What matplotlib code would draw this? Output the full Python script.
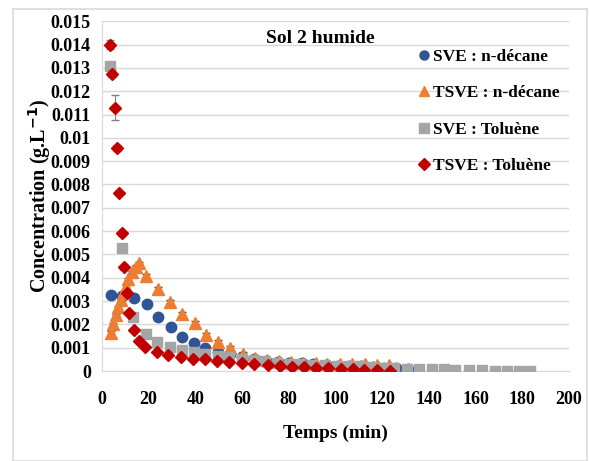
import numpy as np
import matplotlib
matplotlib.use("Agg")
import matplotlib.pyplot as plt
from matplotlib.ticker import FuncFormatter, MultipleLocator
from matplotlib.patches import Rectangle
from matplotlib.lines import Line2D

plt.rcParams['font.family'] = ['Liberation Serif', 'DejaVu Serif']
plt.rcParams['font.weight'] = 'bold'

# concentrations read in mg/L, converted to g/L below
t_sve_dec = [3.9, 8.6, 13.8, 19.1, 24.2, 29.6, 34.5, 39.6, 44.3, 49.9, 54.8, 60.2, 65.3,
             70.3, 75.3, 80.3, 85.5, 90.5, 95.8, 101, 106, 111, 116, 121, 126, 131]
c_sve_dec = [3.25, 3.2, 3.12, 2.88, 2.33, 1.9, 1.47, 1.21, 0.97, 0.83, 0.72, 0.62, 0.52,
             0.45, 0.4, 0.36, 0.33, 0.3, 0.27, 0.24, 0.22, 0.2, 0.18, 0.15, 0.12, 0.1]

t_tsve_dec = [3.9, 4.8, 5.9, 7.0, 8.2, 9.1, 10.2, 11.3, 12.7, 14.4, 15.9, 18.9, 24.2, 29.2,
              34.5, 39.7, 44.5, 49.6, 54.7, 60.5, 65.5, 70.5, 76, 81, 86, 91.5, 96.5, 102,
              107, 112.7, 117.7, 123]
c_tsve_dec = [1.62, 2.0, 2.4, 2.76, 3.05, 3.33, 3.62, 3.93, 4.26, 4.48, 4.62, 4.08, 3.5, 2.96,
              2.45, 2.05, 1.55, 1.24, 1.0, 0.72, 0.55, 0.46, 0.42, 0.38, 0.35, 0.33, 0.32, 0.3,
              0.3, 0.3, 0.28, 0.27]
e_tsve_dec = [0.1, 0.05, 0.05, 0.05, 0.05, 0.05, 0.05, 0.05, 0.05, 0.05, 0.05, 0.08, 0.1, 0.1,
              0.08, 0.08, 0.1, 0.08, 0.08, 0.08, 0.05, 0.05, 0.05, 0.05, 0.05, 0.05, 0.05, 0.05,
              0.05, 0.05, 0.05, 0.05]

t_sve_tol = [3.4, 8.4, 13.4, 18.7, 23.8, 29.2, 34.5, 39.3, 44.3, 49.6, 54.4, 59.9, 65.0, 70.0,
             75.0, 80.0, 85.0, 90.0, 95.5, 100.5, 105.5, 110.5, 115.5, 120.5, 125.0, 130.5,
             135.8, 141.2, 146.3, 151.4, 157.0, 162.6, 168.3, 173.4, 178.5, 183.5]
c_sve_tol = [13.1, 5.27, 2.33, 1.58, 1.26, 1.05, 0.9, 0.83, 0.75, 0.64, 0.59, 0.5, 0.47, 0.42,
             0.36, 0.32, 0.3, 0.27, 0.26, 0.24, 0.22, 0.2, 0.17, 0.15, 0.13, 0.11, 0.1, 0.09,
             0.08, 0.05, 0.04, 0.03, 0.02, 0.02, 0.01, 0.01]

t_tsve_tol = [3.4, 4.4, 5.6, 6.6, 7.4, 8.4, 9.6, 10.6, 11.7, 13.7, 15.8, 18.6, 23.4, 28.5, 33.8,
              38.9, 44.0, 49.2, 54.4, 60.2, 65.2, 71.1, 76.4, 81.3, 86.7, 91.8, 97.0, 102.2,
              107.4, 112.4, 117.7, 123.2]
c_tsve_tol = [14.0, 12.75, 11.3, 9.57, 7.63, 5.9, 4.45, 3.33, 2.5, 1.76, 1.3, 1.04, 0.82, 0.70,
              0.61, 0.53, 0.50, 0.42, 0.37, 0.33, 0.29, 0.26, 0.2, 0.16, 0.16, 0.15, 0.12, 0.09,
              0.08, 0.05, 0.05, 0.01]
e_tsve_tol = [0.2, 0.15, 0.55, 0.12, 0.1, 0.1, 0.12, 0.1, 0.08, 0.05, 0.05, 0.05, 0.05, 0.05,
              0.05, 0.05, 0.05, 0.05, 0.05, 0.05, 0.05, 0.05, 0.05, 0.05, 0.05, 0.05, 0.05, 0.05,
              0.05, 0.05, 0.05, 0.05]

labels = ['SVE : n-décane', 'TSVE : n-décane', 'SVE : Toluène', 'TSVE : Toluène']
colors = ['#2F5597', '#ED7D31', '#A5A5A5', '#C00000']
markers = ['o', '^', 's', 'D']

def g(v):
    return np.array(v) / 1000.0

fig = plt.figure(figsize=(5.89, 4.61), dpi=100)
ax = fig.add_axes([0.173, 0.195, 0.793, 0.759])

fig.patches.append(Rectangle((0.022, 0.0), 0.975, 0.98, transform=fig.transFigure,
                             fill=False, edgecolor='#d9d9d9', linewidth=1.2))

ax.plot(t_sve_dec, g(c_sve_dec), 'o', color=colors[0], ms=7.5, zorder=3)
ax.errorbar(t_tsve_dec, g(c_tsve_dec), yerr=g(e_tsve_dec), fmt='^', color=colors[1], ms=8,
            ecolor='#404040', elinewidth=0.7, capsize=3, zorder=4)
ax.plot(t_sve_tol, g(c_sve_tol), 's', color=colors[2], ms=7, zorder=5)
ax.errorbar(t_tsve_tol, g(c_tsve_tol), yerr=g(e_tsve_tol), fmt='D', color=colors[3], ms=6,
            ecolor='#7f7f7f', elinewidth=0.8, capsize=3, zorder=6)

ax.set_xlim(0, 200)
ax.set_ylim(0, 0.015)
ax.xaxis.set_major_locator(MultipleLocator(20))
ax.yaxis.set_major_locator(MultipleLocator(0.001))
ax.yaxis.set_major_formatter(FuncFormatter(lambda v, p: '%g' % round(v, 4)))
ax.grid(axis='y', color='#d9d9d9', linewidth=1)
ax.set_axisbelow(True)
for s in ['top', 'right']:
    ax.spines[s].set_visible(False)
ax.spines['left'].set_color('#d9d9d9')
ax.spines['bottom'].set_color('#d9d9d9')
ax.tick_params(axis='y', length=0, labelsize=13, pad=8)
ax.tick_params(axis='x', length=0, labelsize=13, pad=14)
for lab in ax.get_xticklabels() + ax.get_yticklabels():
    lab.set_fontweight('bold')

ax.set_xlabel('Temps (min)', fontsize=14, fontweight='bold', labelpad=12)
ax.set_ylabel('Concentration (g.L$^{-1}$)', fontsize=14.5, fontweight='bold', labelpad=-2)

fig.text(0.543, 0.917, 'Sol 2 humide', fontsize=14, fontweight='bold', ha='center', va='center')

handles = [Line2D([], [], linestyle='none', marker=m, color=c, ms=6.5)
           for m, c in zip(markers, colors)]
leg = ax.legend(handles, labels, loc='upper left', bbox_to_anchor=(0.675, 0.92), frameon=False,
                fontsize=12.5, handletextpad=0.1, labelspacing=1.15, handlelength=0.8,
                borderaxespad=0, borderpad=0)
for t in leg.get_texts():
    t.set_fontweight('bold')

fig.savefig('out.png', dpi=100)
